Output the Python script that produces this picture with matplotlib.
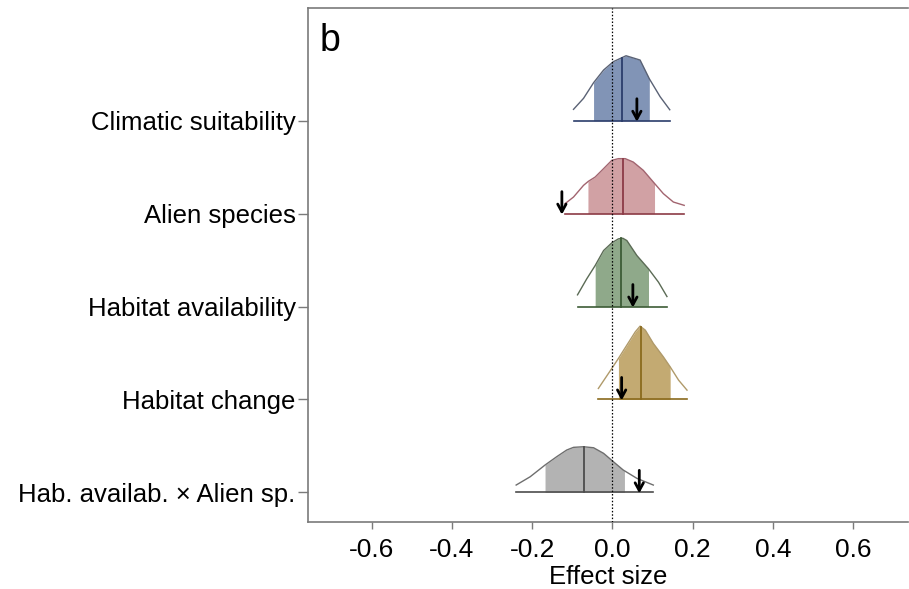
import numpy as np
import matplotlib
matplotlib.use("Agg")
import matplotlib.pyplot as plt

plt.rcParams['font.family'] = ['Liberation Sans', 'DejaVu Sans']

labels = ["Climatic suitability", "Alien species", "Habitat availability",
          "Habitat change", "Hab. availab. \u00d7 Alien sp."]

# density curves (x = effect size, h = relative density height)
clim_x = [-0.097, -0.072, -0.047, -0.022, 0.002, 0.034, 0.069, 0.092, 0.119, 0.143]
clim_h = [11.4, 22.4, 38.0, 50.7, 59.0, 65.0, 60.7, 42.0, 24.0, 11.0]
alien_x = [-0.118, -0.097, -0.072, -0.060, -0.043, -0.022, -0.0015, 0.015, 0.032,
           0.052, 0.077, 0.102, 0.127, 0.152, 0.179]
alien_h = [10.0, 16.6, 28.3, 32.3, 36.6, 45.0, 53.3, 55.0, 55.0, 51.6, 43.3, 31.6,
           20.0, 11.6, 8.3]
hav_x = [-0.087, -0.064, -0.043, -0.022, -0.0015, 0.015, 0.026, 0.036, 0.061, 0.090,
         0.115, 0.136]
hav_h = [11.7, 27.7, 41.0, 56.0, 63.7, 67.7, 68.3, 66.0, 51.0, 37.7, 24.3, 10.0]
hch_x = [-0.035, -0.0015, 0.015, 0.036, 0.057, 0.069, 0.082, 0.102, 0.127, 0.144,
         0.165, 0.186]
hch_h = [11.0, 31.0, 41.0, 54.3, 67.6, 73.3, 69.3, 56.0, 42.6, 32.6, 19.3, 9.3]
int_x = [-0.240, -0.205, -0.168, -0.139, -0.114, -0.097, -0.072, -0.047, -0.022,
         0.0025, 0.027, 0.061, 0.102]
int_h = [7.3, 15.6, 27.3, 35.6, 42.3, 45.0, 45.6, 44.6, 39.0, 30.6, 22.3, 14.0, 7.3]

curves_x = [clim_x, alien_x, hav_x, hch_x, int_x]
curves_h = [clim_h, alien_h, hav_h, hch_h, int_h]

interval_lo = [-0.047, -0.061, -0.043, 0.015, -0.168]
interval_hi = [0.092, 0.105, 0.090, 0.144, 0.030]
medians = [0.024, 0.026, 0.022, 0.072, -0.072]
arrows = [0.061, -0.126, 0.051, 0.023, 0.067]

fill_cols = ["#8194b6", "#d1a1a4", "#8fa98a", "#c3aa72", "#b3b3b3"]
line_cols = ["#2b3d6b", "#8c3b46", "#3d5c36", "#8a6a1c", "#4d4d4d"]
edge_cols = ["#5a6275", "#a2646f", "#5b6b55", "#b09a6a", "#6e6e6e"]

xticks = [-0.6, -0.4, -0.2, 0.0, 0.2, 0.4, 0.6]

W, H = 909, 589
fig = plt.figure(figsize=(W / 100, H / 100), dpi=100)
ax = fig.add_axes([308 / W, 1 - 521.7 / H, (908 - 308) / W, (521.7 - 7.5) / H])

scale = 92.9  # px per row
n = len(labels)
for i in range(n):
    base = n - i
    xs = np.array(curves_x[i])
    hs = np.array(curves_h[i]) / scale
    lo, hi = interval_lo[i], interval_hi[i]
    inner = (xs > lo) & (xs < hi)
    fx = np.concatenate([[lo], xs[inner], [hi]])
    fh = np.interp(fx, xs, hs)
    ax.fill_between(fx, base, base + fh, color=fill_cols[i], lw=0, zorder=2)
    ax.plot(xs, base + hs, color=edge_cols[i], lw=1.0, zorder=3)
    ax.plot([xs[0], xs[-1]], [base, base], color=line_cols[i], lw=1.2, zorder=3)
    mh = np.interp(medians[i], xs, hs)
    ax.plot([medians[i], medians[i]], [base, base + mh], color=line_cols[i], lw=1.3, zorder=4)
    ax.annotate("", xy=(arrows[i], base - 1 / scale), xytext=(arrows[i], base + 22 / scale),
                arrowprops=dict(arrowstyle="->,head_length=0.55,head_width=0.3",
                                color="black", lw=2.0, shrinkA=0, shrinkB=0), zorder=6)

ax.axvline(0, color="black", ls=(0, (1.2, 1.5)), lw=0.9, zorder=5)

ax.set_xlim(-0.759, 0.737)
ax.set_ylim(0.684, 6.219)
ax.set_yticks(range(n, 0, -1))
ax.set_yticklabels(labels, fontsize=18.5)
ax.set_xticks(xticks)
ax.set_xticklabels([f"{t:.1f}" for t in xticks], fontsize=19)
ax.set_xlabel("Effect size", fontsize=18.5, labelpad=2)

for s in ["left", "bottom", "top"]:
    ax.spines[s].set_color("#7a7a7a")
    ax.spines[s].set_linewidth(1.2)
ax.spines["right"].set_visible(False)
ax.tick_params(axis="x", length=5, width=1, color="#7a7a7a", pad=7)
ax.tick_params(axis="y", length=7, width=1, color="#7a7a7a", pad=2)

ax.text(12 / 600, 1 - 43 / 514, "b", transform=ax.transAxes, fontsize=27,
        va="baseline", ha="left")

fig.savefig("out.png", dpi=100)
